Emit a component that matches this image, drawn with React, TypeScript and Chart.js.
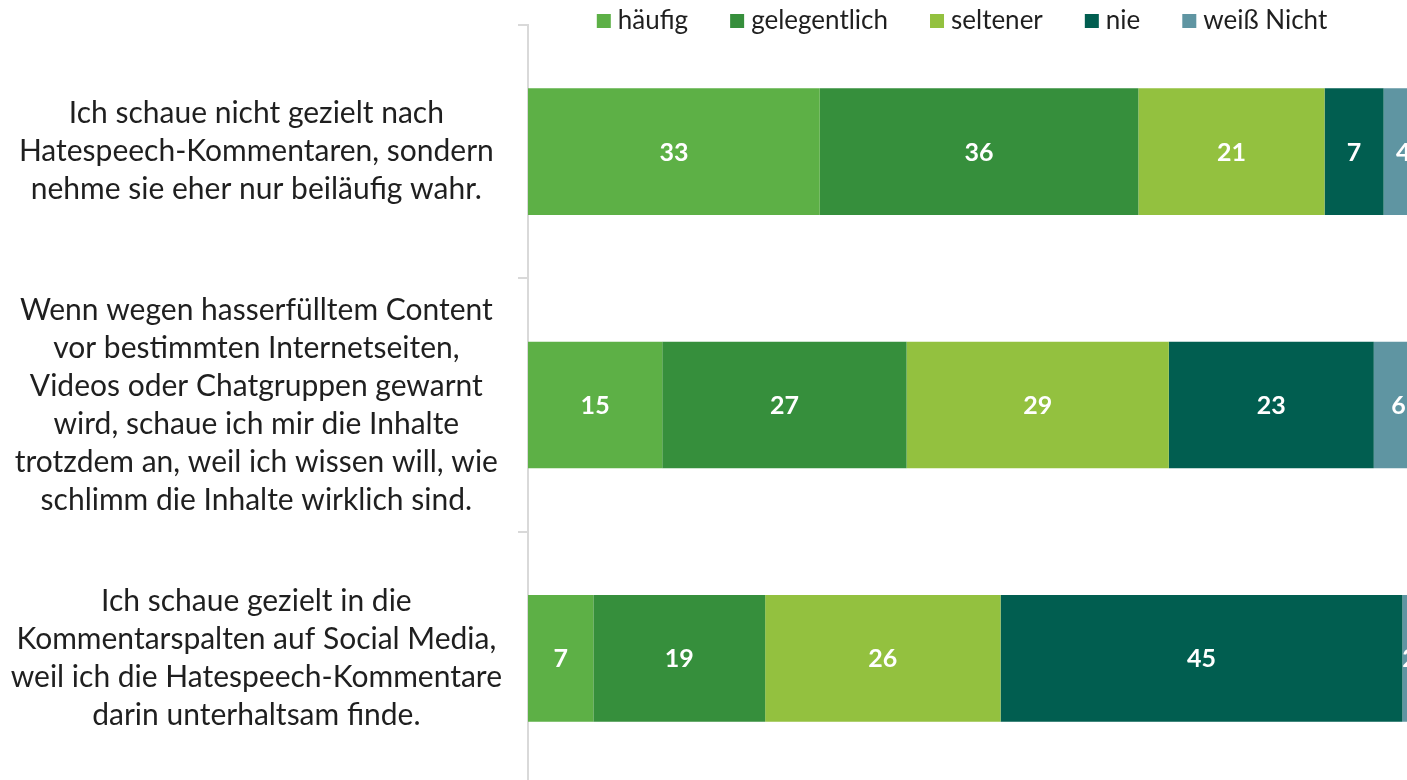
import React, { useEffect, useRef } from "react";
import { Chart, registerables } from "chart.js";

Chart.register(...registerables);

const categories: string[][] = [
  ["Ich schaue nicht gezielt nach", "Hatespeech-Kommentaren, sondern", "nehme sie eher nur beiläufig wahr."],
  [
    "Wenn wegen hasserfülltem Content",
    "vor bestimmten Internetseiten,",
    "Videos oder Chatgruppen gewarnt",
    "wird, schaue ich mir die Inhalte",
    "trotzdem an, weil ich wissen will, wie",
    "schlimm die Inhalte wirklich sind.",
  ],
  ["Ich schaue gezielt in die", "Kommentarspalten auf Social Media,", "weil ich die Hatespeech-Kommentare", "darin unterhaltsam finde."],
];

const seriesNames = ["häufig", "gelegentlich", "seltener", "nie", "weiß Nicht"];
const haeufig = [32.6, 15.0, 7.3];
const gelegentlich = [35.6, 27.3, 19.2];
const seltener = [20.8, 29.3, 26.3];
const nie = [6.6, 22.9, 44.9];
const weissNicht = [4.4, 5.5, 1.6];
const colors = ["#5DB046", "#368F3C", "#93C13F", "#015E50", "#5F95A2"];

const FONT = "Lato, 'Open Sans', sans-serif";
const TEXT_COLOR = "#1f1f1f";
const LEGEND_CENTER_X = 962;
const LEGEND_Y = 21;

const legendPlugin = {
  id: "customLegend",
  afterDraw(chart: any) {
    const ctx = chart.ctx;
    ctx.save();
    ctx.font = `26px ${FONT}`;
    ctx.textBaseline = "middle";
    ctx.textAlign = "left";
    const box = 14;
    const boxGap = 7;
    const itemGap = 42;
    const items = chart.data.datasets.map((ds: any) => ({
      label: ds.label,
      color: ds.backgroundColor,
      w: ctx.measureText(ds.label).width,
    }));
    const total =
      items.reduce((s: number, it: any) => s + box + boxGap + it.w, 0) + itemGap * (items.length - 1);
    let x = LEGEND_CENTER_X - total / 2;
    items.forEach((it: any) => {
      ctx.fillStyle = it.color;
      ctx.fillRect(x, LEGEND_Y - box / 2, box, box);
      x += box + boxGap;
      ctx.fillStyle = TEXT_COLOR;
      ctx.fillText(it.label, x, LEGEND_Y);
      x += it.w + itemGap;
    });
    ctx.restore();
  },
};

const valueLabelPlugin = {
  id: "valueLabels",
  afterDatasetsDraw(chart: any) {
    const ctx = chart.ctx;
    ctx.save();
    ctx.font = `bold 25px ${FONT}`;
    ctx.fillStyle = "#ffffff";
    ctx.textAlign = "center";
    ctx.textBaseline = "middle";
    chart.data.datasets.forEach((ds: any, i: number) => {
      const meta = chart.getDatasetMeta(i);
      meta.data.forEach((el: any, j: number) => {
        const p = el.getProps(["x", "y", "base"], true);
        const v = ds.data[j];
        ctx.fillText(String(Math.round(v)), (p.x + p.base) / 2, p.y + 1);
      });
    });
    ctx.restore();
  },
};

export default function App() {
  const ref = useRef<HTMLCanvasElement>(null);

  useEffect(() => {
    if (!ref.current) return;
    const values = [haeufig, gelegentlich, seltener, nie, weissNicht];
    const chart = new Chart(ref.current, {
      type: "bar",
      data: {
        labels: categories,
        datasets: seriesNames.map((name, i) => ({
          label: name,
          data: values[i],
          backgroundColor: colors[i],
          borderWidth: 0,
          barPercentage: 0.5,
          categoryPercentage: 1.0,
        })),
      },
      options: {
        indexAxis: "y",
        responsive: false,
        animation: false,
        layout: { padding: { top: 25, left: 0, right: 0, bottom: 0 } },
        plugins: {
          legend: { display: false },
          tooltip: { enabled: false },
        },
        scales: {
          x: { stacked: true, min: 0, max: 100, display: false },
          y: {
            stacked: true,
            grid: {
              drawOnChartArea: false,
              drawTicks: true,
              tickLength: 10,
              color: "#d9d9d9",
              lineWidth: 2,
              offset: true,
            },
            border: { color: "#d9d9d9", width: 2 },
            ticks: {
              crossAlign: "center",
              padding: 16,
              color: TEXT_COLOR,
              font: { family: FONT, size: 30, lineHeight: 38 / 30 },
            },
            afterFit: (scale: any) => {
              scale.width = 528;
              scale.paddingTop = 0;
              scale.paddingBottom = 0;
            },
          },
        },
      },
      plugins: [legendPlugin, valueLabelPlugin],
    });
    return () => chart.destroy();
  }, []);

  return (
    <div
      style={{
        position: "fixed",
        left: 0,
        top: 0,
        width: 1407,
        height: 780,
        overflow: "hidden",
        background: "#ffffff",
      }}
    >
      <canvas ref={ref} width={1423} height={785} style={{ display: "block" }} />
    </div>
  );
}
